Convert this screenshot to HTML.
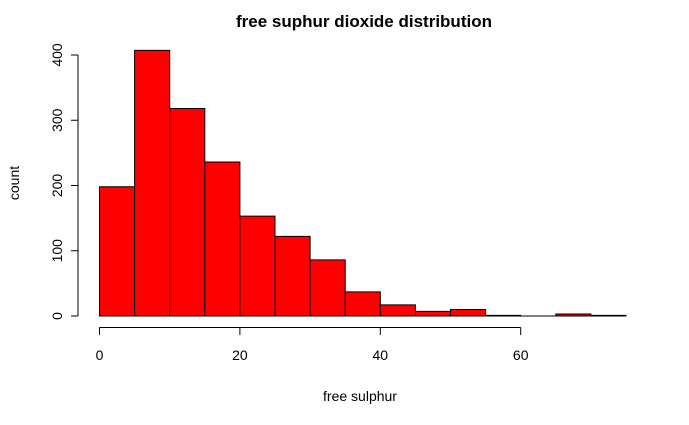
<!DOCTYPE html>
<html><head><meta charset="utf-8"><style>
body{margin:0;background:#fff}
svg{display:block;font-family:"Liberation Sans",Arial,sans-serif}
</style></head><body>
<svg id="c" width="689" height="425">
<text x="364" y="27" text-anchor="middle" font-size="17" font-weight="bold">free suphur dioxide distribution</text>
<text x="360" y="401" text-anchor="middle" font-size="14">free sulphur</text>
<text transform="translate(19,183) rotate(-90)" text-anchor="middle" font-size="14">count</text>
</svg>
<script>
const binStarts=[0,5,10,15,20,25,30,35,40,45,50,55,60,65,70];
const counts=[198,407,318,236,153,122,86,37,17,7,10,1,0,3,1];
const binWidth=5;
const xTicks=[0,20,40,60];
const yTicks=[0,100,200,300,400];
const NS="http://www.w3.org/2000/svg";
const svg=document.getElementById('c');
const X=v=>99.5+v*7.02;
const Y=v=>316-v*0.6525;
function mk(t,a){const e=document.createElementNS(NS,t);for(const k in a)e.setAttribute(k,a[k]);svg.appendChild(e);return e;}
binStarts.forEach((b,i)=>{
 const x0=X(b),x1=X(b+binWidth),y0=Y(0),y1=Y(counts[i]);
 const r=mk('path',{d:`M${x0},${y0}L${x0},${y1}L${x1},${y1}L${x1},${y0}Z`,fill:'#ff0000',stroke:'#000','stroke-width':1});
 
 
});
const ya=mk('line',{x1:78,x2:78,y1:Y(0),y2:Y(400),stroke:'#000'});


yTicks.forEach(v=>{
 const l=mk('line',{x1:71,x2:78,y1:Y(v),y2:Y(v),stroke:'#000'});
 
 
 const t=mk('text',{transform:`translate(62,${Y(v)}) rotate(-90)`,'text-anchor':'middle','font-size':14});
 t.textContent=v;
 
 
});
const xa=mk('line',{x1:X(0),x2:X(60),y1:327.5,y2:327.5,stroke:'#000'});


xTicks.forEach(v=>{
 const l=mk('line',{x1:X(v),x2:X(v),y1:327.5,y2:335,stroke:'#000'});
 
 
 const t=mk('text',{x:X(v),y:360,'text-anchor':'middle','font-size':14});
 t.textContent=v;
 
 
});
</script>
</body></html>
